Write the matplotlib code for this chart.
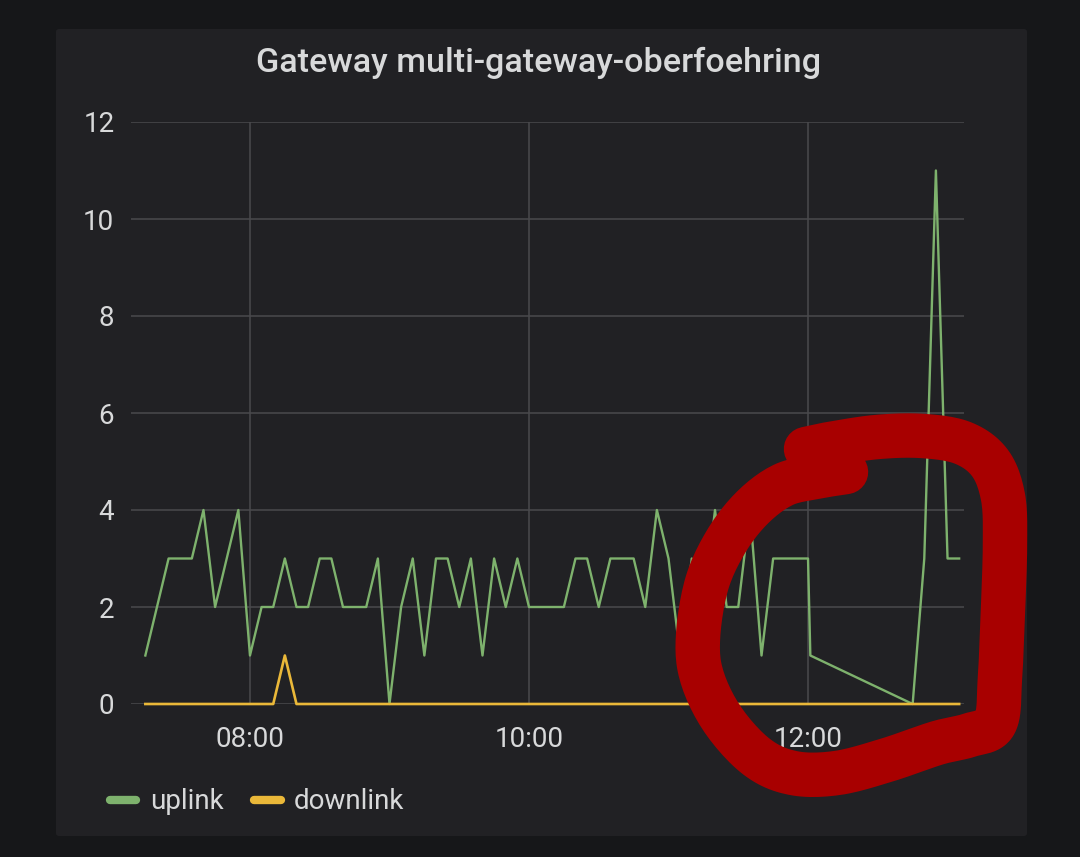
import matplotlib
matplotlib.use("Agg")
import matplotlib.pyplot as plt
import matplotlib.dates as mdates
from matplotlib.patches import FancyBboxPatch
from matplotlib.lines import Line2D
import numpy as np
import pandas as pd

# grafana export, values per 5 min bucket (gap between 12:01 and 12:45)
times = [
    "07:15", "07:20", "07:25", "07:30", "07:35", "07:40", "07:45", "07:50", "07:55",
    "08:00", "08:05", "08:10", "08:15", "08:20", "08:25", "08:30", "08:35", "08:40", "08:45", "08:50", "08:55",
    "09:00", "09:05", "09:10", "09:15", "09:20", "09:25", "09:30", "09:35", "09:40", "09:45", "09:50", "09:55",
    "10:00", "10:05", "10:10", "10:15", "10:20", "10:25", "10:30", "10:35", "10:40", "10:45", "10:50", "10:55",
    "11:00", "11:05", "11:10", "11:15", "11:20", "11:25", "11:30", "11:35", "11:40", "11:45", "11:50", "11:55",
    "12:00", "12:01", "12:45", "12:50", "12:55", "13:00", "13:05",
]
uplink = [
    1, 2, 3, 3, 3, 4, 2, 3, 4,
    1, 2, 2, 3, 2, 2, 3, 3, 2, 2, 2, 3,
    0, 2, 3, 1, 3, 3, 2, 3, 1, 3, 2, 3,
    2, 2, 2, 2, 3, 3, 2, 3, 3, 3, 2, 4,
    3, 1, 3, 2, 4, 2, 2, 4, 1, 3, 3, 3,
    3, 1, 0, 3, 11, 3, 3,
]
downlink = [
    0, 0, 0, 0, 0, 0, 0, 0, 0,
    0, 0, 0, 1, 0, 0, 0, 0, 0, 0, 0, 0,
    0, 0, 0, 0, 0, 0, 0, 0, 0, 0, 0, 0,
    0, 0, 0, 0, 0, 0, 0, 0, 0, 0, 0, 0,
    0, 0, 0, 0, 0, 0, 0, 0, 0, 0, 0, 0,
    0, 0, 0, 0, 0, 0, 0,
]
yticks = [0, 2, 4, 6, 8, 10, 12]
title = "Gateway multi-gateway-oberfoehring"

# red marker scribble drawn over the screenshot (figure pixels)
scribble_x = [806, 830, 877, 923, 963, 990, 1003, 1005, 1003, 1000, 995, 970, 937, 887,
              837, 793, 757, 723, 702, 698, 707, 727, 753, 783, 815, 846]
scribble_y = [449, 444, 437, 436, 443, 463, 497, 543, 610, 677, 723, 735, 743, 760,
              773, 773, 757, 720, 677, 637, 583, 540, 507, 485, 477, 472]

W, H = 1080, 857
BG = "#161719"
PANEL = "#212124"
TXT = "#d8d9da"
GRID = "#4a4a4d"
GREEN = "#7eb26d"
YELLOW = "#eab839"

plt.rcParams['font.family'] = ['Roboto', 'DejaVu Sans']

t = pd.to_datetime(["2019-05-10 " + s for s in times])

fig = plt.figure(figsize=(W / 100, H / 100), dpi=100)
fig.patch.set_facecolor(BG)


def fx(x):
    return x / W


def fy(y):
    return 1 - y / H


def smooth_stroke(xs, ys, n=12):
    # catmull-rom through the hand drawn points, just for the marker look
    p = np.column_stack([xs, ys]).astype(float)
    p = np.vstack([p[0], p, p[-1]])
    out = []
    for i in range(1, len(p) - 2):
        p0, p1, p2, p3 = p[i - 1], p[i], p[i + 1], p[i + 2]
        for s in np.linspace(0, 1, n, endpoint=False):
            out.append(0.5 * ((2 * p1) + (-p0 + p2) * s + (2 * p0 - 5 * p1 + 4 * p2 - p3) * s ** 2
                              + (-p0 + 3 * p1 - 3 * p2 + p3) * s ** 3))
    out.append(p[-2])
    out = np.array(out)
    return out[:, 0], out[:, 1]


panel = FancyBboxPatch((fx(56), fy(836)), fx(1027) - fx(56), fy(29) - fy(836),
                       boxstyle="round,pad=0,rounding_size=0.003",
                       transform=fig.transFigure, facecolor=PANEL, edgecolor="none", zorder=-5)
fig.patches.append(panel)

ax = fig.add_axes([fx(131), fy(704), fx(964) - fx(131), fy(122) - fy(704)])
ax.set_facecolor(PANEL)

ax.plot(t, uplink, color=GREEN, lw=1.7, zorder=3, clip_on=False)
ax.plot(t, downlink, color=YELLOW, lw=1.9, zorder=4, clip_on=False)

ax.set_ylim(0, 12)
ax.set_yticks(yticks)
ax.set_xlim(pd.Timestamp("2019-05-10 07:08:50"), pd.Timestamp("2019-05-10 13:07:05"))
ax.xaxis.set_major_locator(mdates.HourLocator(byhour=[8, 10, 12]))
ax.xaxis.set_major_formatter(mdates.DateFormatter("%H:%M"))

ax.grid(True, color=GRID, lw=1.1)
ax.set_axisbelow(True)
for s in ax.spines.values():
    s.set_visible(False)
ax.tick_params(axis="both", length=0, labelsize=20, labelcolor=TXT)
ax.tick_params(axis="y", pad=12)
ax.tick_params(axis="x", pad=16)

fig.text(fx(539), fy(63), title, ha="center", va="center", fontsize=24.6,
         fontweight="medium", color=TXT)

# legend
for x0, x1, col, lab, tx in [(110, 136, GREEN, "uplink", 150), (254, 281, YELLOW, "downlink", 294)]:
    fig.add_artist(Line2D([fx(x0), fx(x1)], [fy(800), fy(800)], transform=fig.transFigure,
                          color=col, lw=6, solid_capstyle="round"))
    fig.text(fx(tx), fy(809), lab, ha="left", va="baseline", fontsize=20, color=TXT)

sx, sy = smooth_stroke(scribble_x, scribble_y)
fig.add_artist(Line2D([fx(v) for v in sx], [fy(v) for v in sy],
                      transform=fig.transFigure, color="#a80000", lw=32,
                      solid_joinstyle="round", solid_capstyle="round", zorder=10))

fig.savefig("out.png", dpi=100, facecolor=BG)
